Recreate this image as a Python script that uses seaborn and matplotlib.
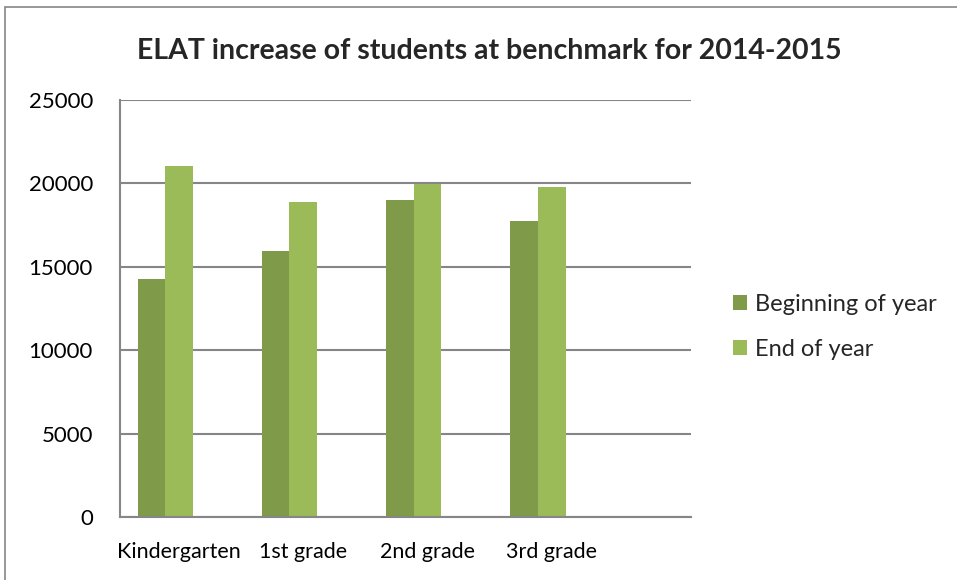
import matplotlib
matplotlib.use("Agg")
import matplotlib.pyplot as plt
import seaborn as sns
import pandas as pd
from matplotlib.patches import Rectangle, Patch

categories = ["Kindergarten", "1st grade", "2nd grade", "3rd grade"]
series_names = ["Beginning of year", "End of year"]
beginning = [14280, 15940, 19020, 17760]
end = [21040, 18900, 19980, 19800]
yticks = [0, 5000, 10000, 15000, 20000, 25000]
title = "ELAT increase of students at benchmark for 2014-2015"

colors = ["#7F9A48", "#9BBB59"]
# Excel reserves a slot for an empty third series, which shifts the bars left
hue_order = series_names + [" "]

df = pd.DataFrame({
    "Grade": categories * 2,
    "Series": [series_names[0]] * 4 + [series_names[1]] * 4,
    "Value": beginning + end,
})

sns.set_theme(style="white")
plt.rcParams["font.family"] = ["Lato", "DejaVu Sans"]

W, H = 957, 580
fig = plt.figure(figsize=(W / 100, H / 100), dpi=100)
ax = fig.add_axes([120 / W, (H - 517) / H, 571 / W, 417 / H])

sns.barplot(data=df, x="Grade", y="Value", hue="Series", hue_order=hue_order,
            palette=colors + ["#FFFFFF"], width=0.668, ax=ax, legend=False,
            saturation=1, edgecolor="none", order=categories)

ax.set_xlim(-0.475, 4.119)
ax.set_ylim(0, 25000)
ax.set_yticks(yticks)
ax.set_yticklabels([str(v) for v in yticks], fontsize=16)
ax.set_xticks(range(len(categories)))
ax.set_xticklabels(categories, fontsize=15.5)
ax.set_xlabel("")
ax.set_ylabel("")
ax.tick_params(axis="both", length=0, colors="black")
ax.tick_params(axis="y", pad=19.5)
ax.tick_params(axis="x", pad=18)
ax.yaxis.grid(True, color="#868686", linewidth=1.5)
ax.set_axisbelow(True)
for side in ["top", "right"]:
    ax.spines[side].set_visible(False)
for side in ["left", "bottom"]:
    ax.spines[side].set_color("#868686")
    ax.spines[side].set_linewidth(1.5)

handles = [Patch(facecolor=c, edgecolor="none") for c in colors]
fig.legend(handles, series_names, loc="center left",
           bbox_to_anchor=(733 / W, 1 - 327 / H), frameon=False,
           fontsize=17, handlelength=0.6, handleheight=0.6,
           handletextpad=0.35, labelspacing=1.0, borderpad=0,
           borderaxespad=0)

fig.text(489 / W, 1 - 51 / H, title, ha="center", va="center",
         fontsize=20.5, fontweight="bold")

fig.patches.append(Rectangle((5 / W, -0.1), 1.2, 1 - 7 / H + 0.1,
                             transform=fig.transFigure, fill=False,
                             edgecolor="#868686", linewidth=1.2))

fig.savefig("out.png", dpi=100)
